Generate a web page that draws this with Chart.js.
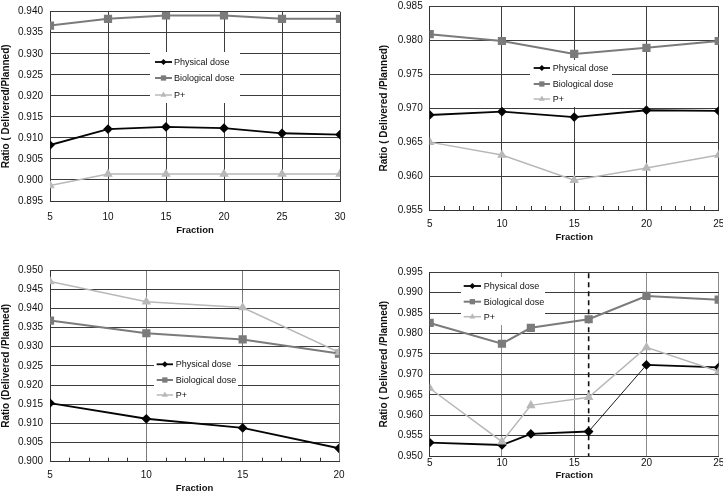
<!DOCTYPE html>
<html><head><meta charset="utf-8">
<script src="https://cdn.jsdelivr.net/npm/chart.js@4/dist/chart.umd.min.js"></script>
<style>
html,body{margin:0;padding:0;background:#fff;overflow:hidden;width:723px;height:491px;position:relative}
canvas{position:absolute}
</style></head><body>
<canvas id="cA"></canvas><canvas id="cB"></canvas><canvas id="cC"></canvas><canvas id="cD"></canvas>
<script>
// ---------- data ----------
const seriesNames = ['Physical dose', 'Biological dose', 'P+'];
const xTitle = 'Fraction';
const yTitles = ['Ratio ( Delivered/Planned)', 'Ratio ( Delivered /Planned)', 'Ratio (Delivered /Planned)', 'Ratio ( Delivered /Planned)'];

const fractionA = [5, 10, 15, 20, 25, 30];
const physicalA = [0.9083, 0.9121, 0.9126, 0.9123, 0.9111, 0.9108];
const biologicalA = [0.9367, 0.9383, 0.9391, 0.9391, 0.9383, 0.9383];
const pplusA = [0.8987, 0.9014, 0.9014, 0.9014, 0.9014, 0.9014];

const fractionB = [5, 10, 15, 20, 25];
const physicalB = [0.9690, 0.9695, 0.9687, 0.9697, 0.9696];
const biologicalB = [0.9809, 0.9799, 0.9780, 0.9789, 0.9799];
const pplusB = [0.9650, 0.9631, 0.9594, 0.9612, 0.9631];

const fractionC = [5, 10, 15, 20];
const physicalC = [0.9153, 0.9112, 0.9088, 0.9035];
const biologicalC = [0.9368, 0.9335, 0.9319, 0.9282];
const pplusC = [0.9470, 0.9417, 0.9402, 0.9285];

const fractionD = [5, 10, 12, 16, 20, 25];
const physicalD = [0.9533, 0.9527, 0.9554, 0.9560, 0.9723, 0.9717];
const biologicalD = [0.9826, 0.9775, 0.9814, 0.9835, 0.9892, 0.9883];
const pplusD = [0.9666, 0.9535, 0.9624, 0.9644, 0.9766, 0.9707];
const dashedFractionD = 16;

const yRangeA = [0.895, 0.940];
const yRangeB = [0.955, 0.985];
const yRangeC = [0.900, 0.950];
const yRangeD = [0.950, 0.995];
const xRangeA = [5, 30];
const xRangeB = [5, 25];
const xRangeC = [5, 20];
const xRangeD = [5, 25];
const yTickStep = 0.005;
const xTickStep = 5;

// ---------- styles ----------
const FONT = '"Liberation Sans", Arial, Helvetica, sans-serif';
Chart.defaults.font.family = FONT;
Chart.defaults.color = '#111';

const seriesStyles = [
  {borderColor: '#050505', borderWidth: 1.8, pointStyle: 'rectRot', pointRadius: 3.6, pointBackgroundColor: '#050505', pointBorderColor: '#050505'},
  {borderColor: '#7b7b7b', borderWidth: 2, pointStyle: 'rect', pointRadius: 4.4, pointBackgroundColor: '#7b7b7b', pointBorderColor: '#7b7b7b'},
  {borderColor: '#b8b8b8', borderWidth: 1.5, pointStyle: 'triangle', pointRadius: 4, pointBackgroundColor: '#b8b8b8', pointBorderColor: '#b8b8b8'}
];

function drawMarker(ctx, style, r, x, y, color) {
  ctx.fillStyle = color;
  ctx.beginPath();
  if (style === 'rectRot') {
    ctx.moveTo(x, y - r); ctx.lineTo(x + r, y); ctx.lineTo(x, y + r); ctx.lineTo(x - r, y); ctx.closePath();
  } else if (style === 'rect') {
    const s = r * Math.SQRT1_2;
    ctx.rect(x - s, y - s, 2 * s, 2 * s);
  } else {
    ctx.moveTo(x, y - r); ctx.lineTo(x + r * 0.87, y + r * 0.5); ctx.lineTo(x - r * 0.87, y + r * 0.5); ctx.closePath();
  }
  ctx.fill();
}

const inlineLegend = {
  id: 'inlineLegend',
  beforeDatasetsDraw(chart, args, o) {
    if (!o || !o.box) return;
    const ctx = chart.ctx;
    ctx.save();
    ctx.fillStyle = '#fff';
    ctx.fillRect(o.box[0], o.box[1], o.box[2], o.box[3]);
    chart.data.datasets.forEach((ds, i) => {
      if (ds.noLegend) return;
      const y = o.rows[i];
      ctx.strokeStyle = ds.borderColor; ctx.lineWidth = ds.borderWidth;
      ctx.beginPath(); ctx.moveTo(o.x0, y); ctx.lineTo(o.x1, y); ctx.stroke();
      drawMarker(ctx, ds.pointStyle, ds.pointRadius * 0.85, (o.x0 + o.x1) / 2, y, ds.pointBackgroundColor);
      ctx.fillStyle = '#111';
      ctx.font = '9px ' + FONT;
      ctx.textBaseline = 'middle'; ctx.textAlign = 'left';
      ctx.fillText(ds.label, o.textX, y + 0.5);
    });
    ctx.restore();
  }
};

const extras = {
  id: 'extras',
  beforeDatasetsDraw(chart, args, o) {
    const ctx = chart.ctx, a = chart.chartArea, xs = chart.scales.x;
    ctx.save();
    if (o && o.minorTicks) {
      ctx.strokeStyle = '#333'; ctx.lineWidth = 1;
      for (let v = Math.ceil(xs.min); v < xs.max; v++) {
        if (v % xTickStep === 0) continue;
        const px = Math.round(xs.getPixelForValue(v)) + 0.5;
        ctx.beginPath(); ctx.moveTo(px, a.bottom); ctx.lineTo(px, a.bottom - 4); ctx.stroke();
      }
    }
    if (o && o.dashedAt != null) {
      const px = xs.getPixelForValue(o.dashedAt);
      ctx.strokeStyle = '#111'; ctx.lineWidth = 1.6; ctx.setLineDash([5, 4]);
      ctx.beginPath(); ctx.moveTo(px, a.top + 1); ctx.lineTo(px, a.bottom); ctx.stroke();
    }
    ctx.restore();
  }
};

function makeChart(id, p) {
  const cv = document.getElementById(id);
  cv.width = p.canvas[2]; cv.height = p.canvas[3];
  cv.style.left = p.canvas[0] + 'px'; cv.style.top = p.canvas[1] + 'px';
  cv.style.width = p.canvas[2] + 'px'; cv.style.height = p.canvas[3] + 'px';
  const datasets = p.series.map((vals, i) => Object.assign({
    label: seriesNames[i],
    data: p.fractions.map((f, j) => ({x: f, y: vals[j]})),
    fill: false, tension: 0, pointHoverRadius: 0,
    order: 3 - i
  }, seriesStyles[i], (p.segment && p.segment[i]) ? {segment: p.segment[i]} : {}));
  return new Chart(cv, {
    type: 'line',
    data: {datasets},
    plugins: [inlineLegend, extras],
    options: {
      responsive: false, animation: false, events: [],
      layout: {padding: p.pad},
      plugins: {legend: {display: false}, tooltip: {enabled: false},
        inlineLegend: p.legend, extras: p.extras || {}},
      scales: {
        x: {
          type: 'linear', min: p.xRange[0], max: p.xRange[1],
          ticks: {stepSize: xTickStep, padding: p.xTickPad, font: {size: 10}, color: '#111', maxRotation: 0},
          grid: {color: p.gridX, lineWidth: 1, drawTicks: false},
          border: {color: '#333', width: 1},
          title: {display: true, text: xTitle, font: {size: 9.5, weight: 'bold'}, color: '#111', padding: 0},
          afterFit(s) { s.height = p.xH; s.paddingLeft = 0; s.paddingRight = 0; }
        },
        y: {
          type: 'linear', min: p.yRange[0], max: p.yRange[1],
          ticks: {stepSize: yTickStep, padding: 7, font: {size: 10}, color: '#111',
            callback: v => Number(v).toFixed(3)},
          grid: {color: p.gridY, lineWidth: 1, drawTicks: false},
          border: {color: '#333', width: 1},
          title: {display: true, text: p.yTitle, font: {size: 10, weight: 'bold'}, color: '#111', padding: 0},
          afterFit(s) { s.width = p.yW; s.paddingTop = 0; s.paddingBottom = 0; }
        }
      }
    }
  });
}

makeChart('cA', {
  canvas: [0, 0, 360, 245], pad: {left: 0, top: 11.7, right: 20, bottom: 9.3}, yW: 50, xH: 34.7, xTickPad: 10,
  fractions: fractionA, series: [physicalA, biologicalA, pplusA], xRange: xRangeA, yRange: yRangeA, yTitle: yTitles[0],
  gridX: '#3c3c3c', gridY: '#3c3c3c',
  legend: {box: [150, 52, 90, 51], x0: 155, x1: 172, textX: 174, rows: [62, 78, 95]}
});
makeChart('cB', {
  canvas: [362, 0, 380, 245], pad: {left: 16.5, top: 4.3, right: 23.3, bottom: 2.3}, yW: 51.2, xH: 32.7, xTickPad: 8,
  fractions: fractionB, series: [physicalB, biologicalB, pplusB], xRange: xRangeB, yRange: yRangeB, yTitle: yTitles[1],
  gridX: '#3c3c3c', gridY: '#3c3c3c',
  legend: {box: [168, 60, 82, 47], x0: 171.7, x1: 188, textX: 190.7, rows: [68, 84, 99]},
  extras: {minorTicks: true}
});
makeChart('cC', {
  canvas: [0, 245, 360, 252], pad: {left: 0, top: 25, right: 21, bottom: 3.3}, yW: 50, xH: 32, xTickPad: 8,
  fractions: fractionC, series: [physicalC, biologicalC, pplusC], xRange: xRangeC, yRange: yRangeC, yTitle: yTitles[2],
  gridX: '#7a7a7a', gridY: '#3c3c3c',
  legend: {box: [154, 110, 84, 48], x0: 156.7, x1: 173, textX: 175.7, rows: [119.3, 135, 150]},
  extras: {minorTicks: true}
});
makeChart('cD', {
  canvas: [362, 245, 380, 246], pad: {left: 16.5, top: 27.3, right: 23.3, bottom: 10.3}, yW: 51.2, xH: 24.7, xTickPad: 1,
  fractions: fractionD, series: [physicalD, biologicalD, pplusD], xRange: xRangeD, yRange: yRangeD, yTitle: yTitles[3],
  gridX: '#8a8a8a', gridY: '#3c3c3c',
  legend: {box: [99, 32, 84, 48], x0: 101.7, x1: 119, textX: 121.7, rows: [41, 56.7, 71.7]},
  extras: {dashedAt: dashedFractionD},
  segment: [{borderWidth: c => (c.p0.parsed.x === dashedFractionD ? 0.9 : 1.8)}]
});
</script>
</body></html>
